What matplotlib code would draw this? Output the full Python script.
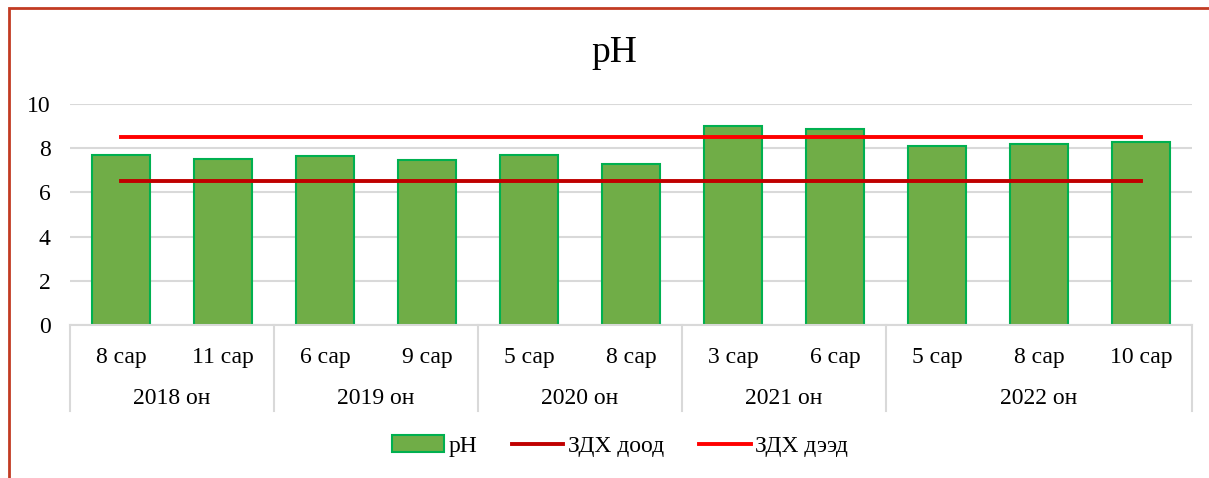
import matplotlib.pyplot as plt
from matplotlib.patches import Rectangle, Patch
from matplotlib.lines import Line2D
from matplotlib.transforms import blended_transform_factory

plt.rcParams['font.family'] = ['Liberation Serif', 'DejaVu Serif']

# dane
months = ['8 сар', '11 сар', '6 сар', '9 сар', '5 сар', '8 сар',
          '3 сар', '6 сар', '5 сар', '8 сар', '10 сар']
years = ['2018 он', '2019 он', '2020 он', '2021 он', '2022 он']
year_sizes = [2, 2, 2, 2, 3]
ph = [7.7, 7.52, 7.63, 7.47, 7.7, 7.3, 9.0, 8.87, 8.12, 8.2, 8.28]
zdx_low = [6.5] * len(ph)
zdx_high = [8.5] * len(ph)

fig = plt.figure(figsize=(12.09, 4.78), dpi=100)
ax = fig.add_axes([70 / 1209, 1 - 325 / 478, (1192 - 70) / 1209, (325 - 104) / 478])

x = list(range(len(ph)))
ax.bar(x, ph, width=0.57, color='#70AD47', edgecolor='#00B050', linewidth=1.5, zorder=2)
ax.plot(x, zdx_low, color='#C00000', linewidth=2.8, zorder=3)
ax.plot(x, zdx_high, color='#FF0000', linewidth=2.8, zorder=3)

ax.set_xlim(-0.5, len(ph) - 0.5)
ax.set_ylim(0, 10)
ax.set_yticks([0, 2, 4, 6, 8, 10])
ax.tick_params(axis='y', length=0, labelsize=17, pad=14)
ax.set_xticks([])
ax.grid(axis='y', color='#D9D9D9', linewidth=1.5, zorder=0)
for s in ['left', 'right', 'top']:
    ax.spines[s].set_visible(False)
ax.spines['bottom'].set_color('#D9D9D9')
ax.spines['bottom'].set_linewidth(1.5)

# etykiety kategorii (dwa poziomy)
tr = blended_transform_factory(ax.transData, fig.transFigure)
y_row1 = 1 - 358 / 478
y_row2 = 1 - 399 / 478
y_sep = 1 - 411 / 478
y_axis = 1 - 325 / 478
for i, m in enumerate(months):
    ax.text(i, y_row1, m, transform=tr, ha='center', va='center', fontsize=17)
start = 0
bounds = [-0.5]
for yr, n in zip(years, year_sizes):
    ax.text(start + (n - 1) / 2, y_row2, yr, transform=tr, ha='center', va='center', fontsize=17)
    start += n
    bounds.append(start - 0.5)
for b in bounds:
    ax.add_line(Line2D([b, b], [y_axis, y_sep], transform=tr, color='#D9D9D9',
                       linewidth=1.5, clip_on=False))

fig.text(614 / 1209, 1 - 53 / 478, 'pH', ha='center', va='center', fontsize=27)

handles = [Patch(facecolor='#70AD47', edgecolor='#00B050', linewidth=1.5),
           Line2D([], [], color='#C00000', linewidth=2.8),
           Line2D([], [], color='#FF0000', linewidth=2.8)]
fig.legend(handles, ['pH', 'ЗДХ доод', 'ЗДХ дээд'], loc='center',
           bbox_to_anchor=(620 / 1209, 1 - 446 / 478), ncol=3, frameon=False,
           fontsize=17, handlelength=2.2, handletextpad=0.2, columnspacing=1.45)

# ramka
fig.patches.append(Rectangle((9 / 1209, -0.2), 1.2, 1.2 - 8 / 478,
                             transform=fig.transFigure, fill=False,
                             edgecolor='#C23B22', linewidth=2))

fig.savefig('out.png', dpi=100)
